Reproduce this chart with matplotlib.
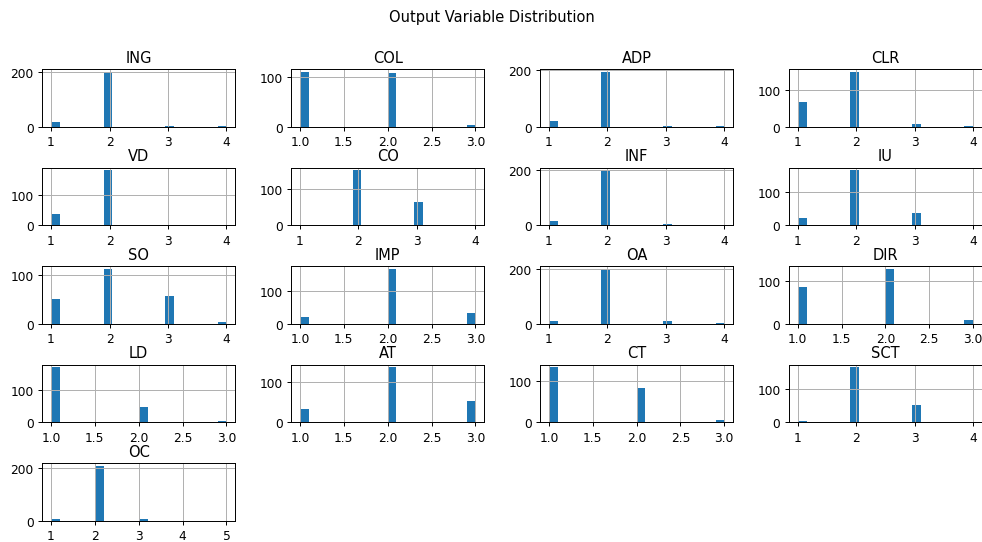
import numpy as np
import matplotlib
matplotlib.use('Agg')
import matplotlib.pyplot as plt
from matplotlib.ticker import MaxNLocator

# counts of each response level (1,2,3,...) per output variable
names = ['ING', 'COL', 'ADP', 'CLR', 'VD', 'CO', 'INF', 'IU', 'SO',
         'IMP', 'OA', 'DIR', 'LD', 'AT', 'CT', 'SCT', 'OC']
ING = [18, 200, 2, 2]
COL = [110, 108, 4]
ADP = [22, 195, 4, 1]
CLR = [66, 148, 6, 2]
VD = [38, 182, 1, 1]
CO = [2, 153, 66, 1]
INF = [17, 198, 6, 1]
IU = [22, 163, 36, 1]
SO = [50, 112, 57, 3]
IMP = [20, 168, 34]
OA = [10, 200, 10, 1]
DIR = [86, 128, 8]
LD = [172, 47, 3]
AT = [34, 136, 52]
CT = [133, 83, 6]
SCT = [5, 164, 52, 1]
OC = [7, 208, 7, 0, 1]

counts = [ING, COL, ADP, CLR, VD, CO, INF, IU, SO, IMP, OA, DIR, LD, AT, CT, SCT, OC]

fig, axes = plt.subplots(5, 4, figsize=(11.17, 6.17))
fig.subplots_adjust(left=0.043, right=0.999, top=0.871, bottom=0.039,
                    wspace=0.29, hspace=0.71)

for i, ax in enumerate(axes.flat):
    if i >= len(names):
        ax.set_visible(False)
        continue
    c = counts[i]
    vals = np.repeat(np.arange(1, len(c) + 1), c)
    ax.hist(vals, bins=20, color='#1f77b4')
    ax.grid(True)
    ax.xaxis.set_major_locator(MaxNLocator(nbins=5, steps=[1, 2, 2.5, 5, 10]))
    ax.set_title(names[i])

fig.suptitle('Output Variable Distribution', y=0.982)

plt.savefig('out.png', dpi=88)
